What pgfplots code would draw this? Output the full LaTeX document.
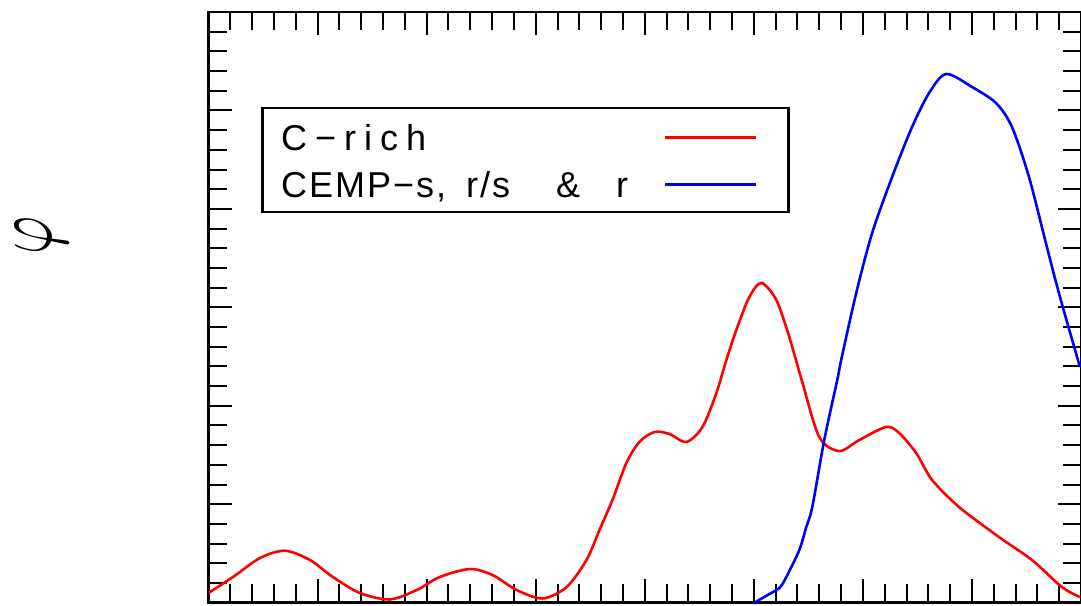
\documentclass[border=0pt]{standalone}
\usepackage{graphicx}
\usepackage{pgfplots}
\pgfplotsset{compat=1.18}
\usepackage{fontspec}
\newfontfamily\legB[LetterSpace=5.5]{Liberation Sans}

\begin{document}
\begin{tikzpicture}
\begin{axis}[
  name=ax,
  scale only axis,
  width=436.25pt, height=295.35pt,
  xmin=0, xmax=8, ymin=0, ymax=6,
  xtick={0,...,8}, ytick={0,...,6},
  minor x tick num=4, minor y tick num=4,
  xticklabels={}, yticklabels={},
  tick align=inside,
  major tick length=11.75pt, minor tick length=9.25pt,
  tick style={black, line width=1pt},
  axis line style={black, line width=1.25pt},
  ylabel={\scalebox{2.9}[4.2]{$\varphi$}},
  ylabel style={at={(axis description cs:-0.191,0.622)}, anchor=center, inner sep=0pt},
  legend cell align=left,
  legend plot pos=right,
  legend image code/.code={\draw[#1] (0pt,-0.5pt) -- (45.5pt,-0.5pt); \path (51.5pt,-0.5pt);},
  legend style={
    at={(axis description cs:0.0603,0.839)}, anchor=north west,
    draw=black, line width=1.2pt,
    inner xsep=9.4pt, inner ysep=3pt,
    row sep=1.2pt, column sep=8.5pt,
    font=\fontsize{18}{21}\selectfont\legB,
    nodes={inner sep=0pt, text height=17.9pt, text depth=4.4pt, text width=183pt, align=left},
  },
]
\addplot[red, line width=1.3pt, smooth] coordinates {
(0,0.099) (0.224,0.261) (0.472,0.454) (0.701,0.528) (0.930,0.434) (1.140,0.261)
(1.387,0.099) (1.662,0.033) (1.909,0.129) (2.120,0.261) (2.395,0.342) (2.605,0.281)
(2.825,0.129) (3.063,0.043) (3.283,0.159) (3.466,0.434) (3.585,0.739) (3.704,1.044)
(3.832,1.420) (3.951,1.633) (4.089,1.734) (4.226,1.714) (4.382,1.633) (4.529,1.785)
(4.657,2.130) (4.748,2.465) (4.849,2.800) (4.959,3.105) (5.069,3.248) (5.206,3.075)
(5.325,2.699) (5.444,2.242) (5.600,1.683) (5.783,1.541) (5.966,1.652) (6.213,1.785)
(6.332,1.724) (6.488,1.521) (6.635,1.246) (6.882,0.972) (7.248,0.667) (7.550,0.434)
(7.825,0.159) (7.990,0.058)
};
\addlegendentry{\makebox[72.5pt][s]{C\hfill−\hfill r\hfill i\hfill c\hfill h}}
\addplot[blue, line width=1.3pt, smooth] coordinates {
(5.005,0) (5.142,0.088) (5.234,0.149) (5.298,0.261) (5.417,0.535) (5.481,0.769)
(5.536,0.972) (5.646,1.653) (5.765,2.262) (5.801,2.465) (5.939,3.146) (6.085,3.755)
(6.268,4.324) (6.451,4.832) (6.607,5.177) (6.763,5.370) (7.001,5.238) (7.220,5.076)
(7.367,4.832) (7.523,4.324) (7.678,3.653) (7.797,3.146) (7.953,2.537) (7.990,2.395)
};
\addlegendentry{\makebox[92.5pt][l]{CEMP−s,}\makebox[45pt][l]{r/s}\makebox[30pt][l]{\&}r}
\end{axis}
\pgfresetboundingbox
\path ([xshift=-104.25pt,yshift=-1.15pt]ax.south west) rectangle ([yshift=6pt]ax.north east);
\end{tikzpicture}
\end{document}
